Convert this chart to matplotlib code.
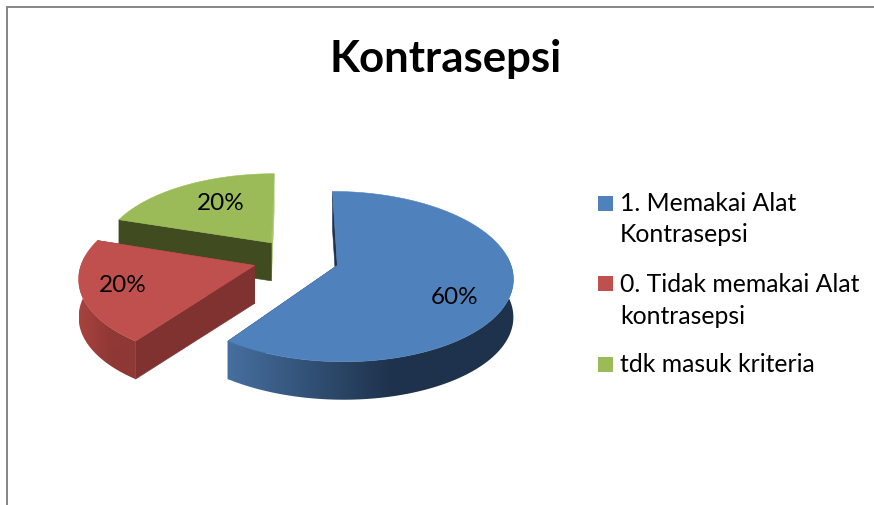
import numpy as np
import matplotlib
matplotlib.use("Agg")
import matplotlib.pyplot as plt
from matplotlib.colors import to_rgb
from matplotlib.patches import Polygon

title = "Kontrasepsi"
categories = ["1. Memakai Alat\nKontrasepsi", "0. Tidak memakai Alat\nkontrasepsi", "tdk masuk kriteria"]
values = [60, 20, 20]

top_colors = ["#4F81BD", "#C0504D", "#9BBB59"]
wall_light = ["#466F9F", "#A8433F", "#9BBB59"]
wall_dark = ["#1E324C", "#8F3835", "#9BBB59"]
front_face = ["#1E324C", "#7F322F", "#404B20"]
back_face = ["#1E324C", "#7F322F", "#A9C46A"]

# projection of the tilted pie plane onto the canvas (pixels)
CX, CY, FX, FY, PERSP, EXPLODE, DEPTH = 296, 259, 172, 82, 0.13, 0.25, 38
label_xy = [(455, 298), (123, 286), (221, 204)]
legend_y = [(203.5, 235), (284, 316), (364.5,)]

plt.rcParams["font.family"] = ["Lato", "DejaVu Sans"]
fig = plt.figure(figsize=(8.74, 5.05), dpi=100)
ax = fig.add_axes([0, 0, 1, 1])
ax.axis("off")


def project(u, v):
    s = 1 / (1 + PERSP * v)
    return CX + FX * u * s, CY - FY * v * s


def poly(points, color, z):
    ax.add_patch(Polygon(points, closed=True, facecolor=color, edgecolor=color, lw=0.4, zorder=z))


def radial_wall(apex, rim, color, z):
    poly([apex, rim, (rim[0], rim[1] + DEPTH), (apex[0], apex[1] + DEPTH)], color, z)


total = sum(values)
start = 0.0
for i, val in enumerate(values):
    a = start
    b = start + 2 * np.pi * val / total
    start = b
    mid = (a + b) / 2
    ou, ov = EXPLODE * np.sin(mid), EXPLODE * np.cos(mid)
    theta = np.linspace(a, b, 200)
    rx, ry = project(ou + np.sin(theta), ov + np.cos(theta))
    apex = project(ou, ov)
    rim_a = (rx[0], ry[0])
    rim_b = (rx[-1], ry[-1])
    z = 2 + (len(values) - i) * 2

    # back-facing straight walls first, then outer wall, then front-facing walls
    a_front = np.sin(a) < -1e-6
    b_front = np.sin(b) > 1e-6
    if not a_front:
        radial_wall(apex, rim_a, back_face[i], z)
    if not b_front:
        radial_wall(apex, rim_b, back_face[i], z)

    keep = np.cos(theta) < 0.12
    if keep.any() and i < 2:
        wx, wy = rx[keep], ry[keep]
        xmin, xmax = rx.min(), rx.max()
        xs = np.linspace(xmin, xmax, 400)
        f = np.clip((xs - xmin) / (xmax - xmin) * 1.75, 0, 1)[None, :, None]
        grad = (1 - f) * np.array(to_rgb(wall_light[i])) + f * np.array(to_rgb(wall_dark[i]))
        shape = Polygon(np.r_[np.c_[wx, wy], np.c_[wx[::-1], wy[::-1] + DEPTH]], closed=True,
                        facecolor="none", edgecolor="none", transform=ax.transData)
        ax.add_patch(shape)
        im = ax.imshow(grad, extent=(xmin, xmax, ry.max() + DEPTH + 2, ry.min() - 2),
                       aspect="auto", zorder=z, interpolation="bilinear")
        im.set_clip_path(shape)

    if a_front:
        radial_wall(apex, rim_a, front_face[i], z)
    if b_front:
        radial_wall(apex, rim_b, front_face[i], z)

    poly([apex] + list(zip(rx, ry)), top_colors[i], z + 1)
    ax.text(*label_xy[i], f"{val}%", fontsize=17.5, color="black", ha="center", va="center", zorder=20)

ax.text(446, 59, title, fontsize=31.5, fontweight="bold", color="black", ha="center", va="center")

for i, cat in enumerate(categories):
    y0 = legend_y[i][0]
    ax.add_patch(plt.Rectangle((598, y0 - 8), 15, 15, facecolor=top_colors[i], edgecolor="none"))
    for line, y in zip(cat.split("\n"), legend_y[i]):
        ax.text(620, y, line, fontsize=17.8, color="black", ha="left", va="center")

ax.plot([6.5, 6.5, 874], [505, 7, 7], color="#868686", lw=1.4, solid_joinstyle="miter")
ax.set_xlim(0, 874)
ax.set_ylim(505, 0)

fig.savefig("out.png", dpi=100, facecolor="white")
